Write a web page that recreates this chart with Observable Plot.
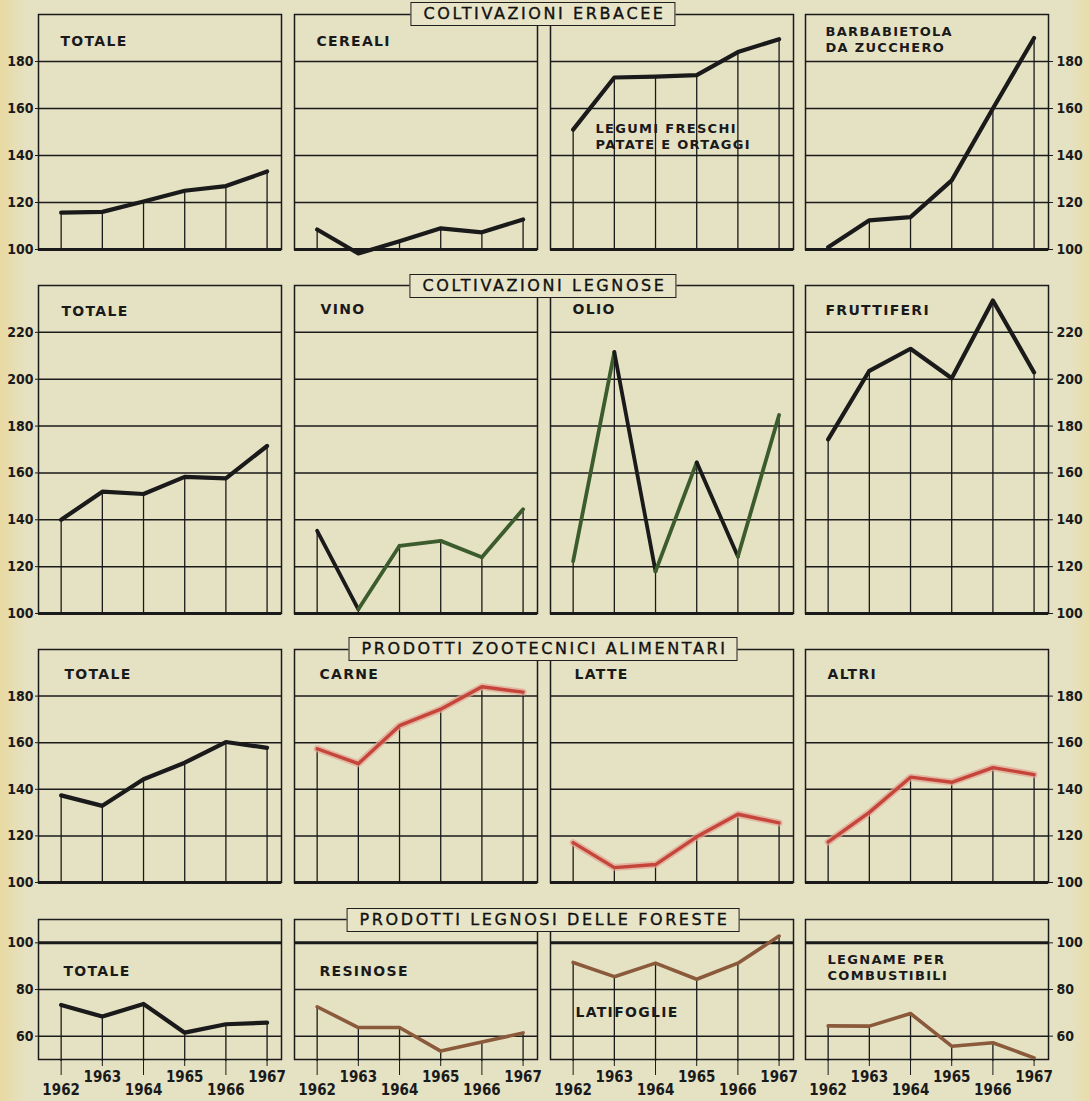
<!DOCTYPE html>
<html>
<head>
<meta charset="utf-8">
<script src="https://cdn.jsdelivr.net/npm/d3@7"></script>
<script src="https://cdn.jsdelivr.net/npm/@observablehq/plot@0.6"></script>
<style>
  body { margin: 0; background: #e5e2c4; }
  #chart {
    position: relative; width: 1090px; height: 1101px; overflow: hidden;
    background: linear-gradient(to right, #e9d9a2 0px, #e6dfb8 18px, #e5e2c4 30px, #e5e2c4 1068px, #e8dcaa 1090px);
    color: #1a1a1a;
  }
  #chart svg { overflow: visible; }
  #chart g[aria-label="text"] text { letter-spacing: 1.3px; }
  .section {
    position: absolute; box-sizing: border-box; height: 24px;
    transform: translateX(-50%);
    border: 1.5px solid #1f1f1f; background: #e7e4c8;
    font-family: "DejaVu Sans", sans-serif; font-size: 16px; letter-spacing: 2.6px;
    line-height: 21px; padding: 0 9px 0 12px; white-space: nowrap; color: #111;
    -webkit-text-stroke: 0.35px #111;
  }
</style>
</head>
<body>
<div id="chart"></div>
<script>
// ---------------- DATA ----------------
const years = [1962, 1963, 1964, 1965, 1966, 1967];
const yearTicksUpper = [1963, 1965, 1967];
const yearTicksLower = [1962, 1964, 1966];

const sectionTitles = [
  "COLTIVAZIONI ERBACEE",
  "COLTIVAZIONI LEGNOSE",
  "PRODOTTI ZOOTECNICI ALIMENTARI",
  "PRODOTTI LEGNOSI DELLE FORESTE"
];

// Coltivazioni erbacee
const labelsErbacee = ["TOTALE", "CEREALI", "LEGUMI FRESCHI\nPATATE E ORTAGGI", "BARBABIETOLA\nDA ZUCCHERO"];
const erbaceeTotale = [115.7, 116, 120.4, 125, 127, 133.2];
const cereali = [108.5, 98.3, 103.5, 109, 107.3, 112.8];
const legumiPatateOrtaggi = [151, 173.2, 173.6, 174.2, 184, 189.5];
const barbabietola = [101, 112.4, 113.8, 129.4, 160, 190];
const ticksErbacee = [100, 120, 140, 160, 180];

// Coltivazioni legnose
const labelsLegnose = ["TOTALE", "VINO", "OLIO", "FRUTTIFERI"];
const legnoseTotale = [140, 152, 151, 158.3, 157.7, 171.5];
const vino = [135.3, 101.8, 128.9, 131, 124, 144.5];
const olio = [122.3, 211.6, 118, 164.5, 124.3, 184.7];
const fruttiferi = [174.3, 203.6, 213, 200.4, 233.6, 202.9];
const ticksLegnose = [100, 120, 140, 160, 180, 200, 220];

// Prodotti zootecnici alimentari
const labelsZootecnici = ["TOTALE", "CARNE", "LATTE", "ALTRI"];
const zootecniciTotale = [137.4, 132.9, 144.3, 151.4, 160.3, 157.8];
const carne = [157.4, 151, 167.3, 174.4, 184, 181.7];
const latte = [117.1, 106.4, 107.7, 119.6, 129.3, 125.6];
const altri = [117.4, 130.1, 145.2, 143, 149.3, 146.3];
const ticksZootecnici = [100, 120, 140, 160, 180];

// Prodotti legnosi delle foreste
const labelsForeste = ["TOTALE", "RESINOSE", "LATIFOGLIE", "LEGNAME PER\nCOMBUSTIBILI"];
const foresteTotale = [73.4, 68.4, 73.8, 61.5, 65.1, 65.8];
const resinose = [72.6, 63.7, 63.7, 53.6, 57.5, 61.4];
const latifoglie = [91.6, 85.5, 91.3, 84.4, 91.3, 102.9];
const legnameCombustibili = [64.4, 64.3, 69.7, 55.7, 57.2, 50.7];
const ticksForeste = [60, 80, 100];

// ---------------- STYLE / LAYOUT ----------------
const INK = "#1a1a1a";
const GREEN = "#3c5c2e";
const RED = "#c5453a";
const RED_HALO = "#e3a291";
const BROWN = "#8a5a3b";

const colLeft = [38, 294, 550, 805];
const panelW = 243;
const sectionCenter = 543;

const rowsCfg = [
  { title: sectionTitles[0], titleTop: 2, top: 14, bottom: 249, domain: [100, 200], ticks: ticksErbacee,
    grid: [120, 140, 160, 180], thick: 100,
    panels: [
      { label: labelsErbacee[0], values: erbaceeTotale, look: "black", dx: 22, dy: 19 },
      { label: labelsErbacee[1], values: cereali, look: "black", dx: 22, dy: 19 },
      { label: labelsErbacee[2], values: legumiPatateOrtaggi, look: "black", dx: 45, dy: 107, fs: 13 },
      { label: labelsErbacee[3], values: barbabietola, look: "black", dx: 20, dy: 10, fs: 13 }
    ] },
  { title: sectionTitles[1], titleTop: 274, top: 285, bottom: 613, domain: [100, 240], ticks: ticksLegnose,
    grid: [120, 140, 160, 180, 200, 220], thick: 100,
    panels: [
      { label: labelsLegnose[0], values: legnoseTotale, look: "black", dx: 23, dy: 18 },
      { label: labelsLegnose[1], values: vino, look: "segments", inks: [INK, GREEN, GREEN, GREEN, GREEN], dx: 26, dy: 16 },
      { label: labelsLegnose[2], values: olio, look: "segments", inks: [GREEN, INK, GREEN, INK, GREEN], dx: 22, dy: 16 },
      { label: labelsLegnose[3], values: fruttiferi, look: "black", dx: 20, dy: 17 }
    ] },
  { title: sectionTitles[2], titleTop: 637, top: 649, bottom: 882, domain: [100, 200], ticks: ticksZootecnici,
    grid: [120, 140, 160, 180], thick: 100,
    panels: [
      { label: labelsZootecnici[0], values: zootecniciTotale, look: "black", dx: 26, dy: 17 },
      { label: labelsZootecnici[1], values: carne, look: "red", dx: 25, dy: 17 },
      { label: labelsZootecnici[2], values: latte, look: "red", dx: 24, dy: 17 },
      { label: labelsZootecnici[3], values: altri, look: "red", dx: 22, dy: 17 }
    ] },
  { title: sectionTitles[3], titleTop: 908, top: 919, bottom: 1059, domain: [50, 110], ticks: ticksForeste,
    grid: [60, 80], thick: 100,
    panels: [
      { label: labelsForeste[0], values: foresteTotale, look: "black", dx: 25, dy: 44 },
      { label: labelsForeste[1], values: resinose, look: "brown", dx: 25, dy: 44 },
      { label: labelsForeste[2], values: latifoglie, look: "brown", dx: 25, dy: 85 },
      { label: labelsForeste[3], values: legnameCombustibili, look: "brown", dx: 22, dy: 33, fs: 13 }
    ] }
];

const chart = document.getElementById("chart");
const numFont = "'DejaVu Sans Condensed', 'DejaVu Sans', sans-serif";

function drawPanel(row, p, c, r) {
  const mL = c === 0 ? 42 : 3;
  const mR = c === 3 ? 48 : 3;
  const mT = 3;
  const mB = r === 3 ? 41 : 4;
  const h = row.bottom - row.top;
  const data = years.map((year, i) => ({ year, value: p.values[i] }));
  const marks = [];

  marks.push(Plot.ruleY(row.grid, { stroke: INK, strokeWidth: 1.5 }));
  marks.push(Plot.frame({ stroke: INK, strokeWidth: 1.5 }));
  marks.push(Plot.ruleY([row.thick], { stroke: INK, strokeWidth: 3 }));
  marks.push(Plot.ruleX(data, { x: "year", y1: row.domain[0], y2: "value", stroke: INK, strokeWidth: 1.3, insetTop: 2 }));

  if (p.look === "black") {
    marks.push(Plot.line(data, { x: "year", y: "value", stroke: INK, strokeWidth: 4.2, strokeLinejoin: "round", strokeLinecap: "round" }));
  } else if (p.look === "brown") {
    marks.push(Plot.line(data, { x: "year", y: "value", stroke: BROWN, strokeWidth: 3.6, strokeLinejoin: "round", strokeLinecap: "round" }));
  } else if (p.look === "red") {
    marks.push(Plot.line(data, { x: "year", y: "value", stroke: RED_HALO, strokeWidth: 7, strokeOpacity: 0.7, strokeLinejoin: "round", strokeLinecap: "round" }));
    marks.push(Plot.line(data, { x: "year", y: "value", stroke: RED, strokeWidth: 3.4, strokeLinejoin: "round", strokeLinecap: "round" }));
  } else {
    const segs = data.slice(1).map((d, i) => ({ x1: data[i].year, y1: data[i].value, x2: d.year, y2: d.value, ink: p.inks[i] }));
    marks.push(Plot.link(segs, { x1: "x1", y1: "y1", x2: "x2", y2: "y2", stroke: "ink", strokeWidth: 3.8, strokeLinecap: "round" }));
  }

  marks.push(Plot.text([p.label], {
    frameAnchor: "top-left", dx: p.dx, dy: p.dy, text: d => d,
    textAnchor: "start", lineAnchor: "top", lineHeight: 1.25,
    fontSize: p.fs || 14, fontWeight: "bold", fontFamily: "'DejaVu Sans', sans-serif", fill: INK
  }));

  if (c === 0) marks.push(Plot.axisY(row.ticks, { anchor: "left", tickSize: 3, tickPadding: 2, label: null, fontSize: 14, fontWeight: "bold" }));
  if (c === 3) marks.push(Plot.axisY(row.ticks, { anchor: "right", tickSize: 4, tickPadding: 4, label: null, fontSize: 14, fontWeight: "bold" }));
  if (r === 3) {
    marks.push(Plot.axisX(yearTicksUpper, { anchor: "bottom", tickSize: 7, tickPadding: 5, label: null, tickFormat: d => String(d), fontSize: 15, fontWeight: "bold" }));
    marks.push(Plot.axisX(yearTicksLower, { anchor: "bottom", tickSize: 16, tickPadding: 9, label: null, tickFormat: d => String(d), fontSize: 15, fontWeight: "bold" }));
  }

  const svg = Plot.plot({
    width: panelW + mL + mR,
    height: h + mT + mB,
    marginLeft: mL, marginRight: mR, marginTop: mT, marginBottom: mB,
    x: r === 3 ? { domain: [1961.45, 1967.35] } : { domain: [1961.45, 1967.35], axis: null },
    y: (c === 0 || c === 3) ? { domain: row.domain } : { domain: row.domain, axis: null },
    color: { type: "identity" },
    style: { background: "transparent", color: INK, fontFamily: numFont, fontWeight: "bold", fontSize: "14px", overflow: "visible" },
    marks
  });
  svg.style.position = "absolute";
  svg.style.left = (colLeft[c] - mL) + "px";
  svg.style.top = (row.top - mT) + "px";
  svg.style.maxWidth = "none";
  chart.appendChild(svg);
}

rowsCfg.forEach((row, r) => {
  row.panels.forEach((p, c) => drawPanel(row, p, c, r));
});

rowsCfg.forEach(row => {
  const box = document.createElement("div");
  box.className = "section";
  box.textContent = row.title;
  box.style.left = sectionCenter + "px";
  box.style.top = row.titleTop + "px";
  chart.appendChild(box);
});
</script>
</body>
</html>
